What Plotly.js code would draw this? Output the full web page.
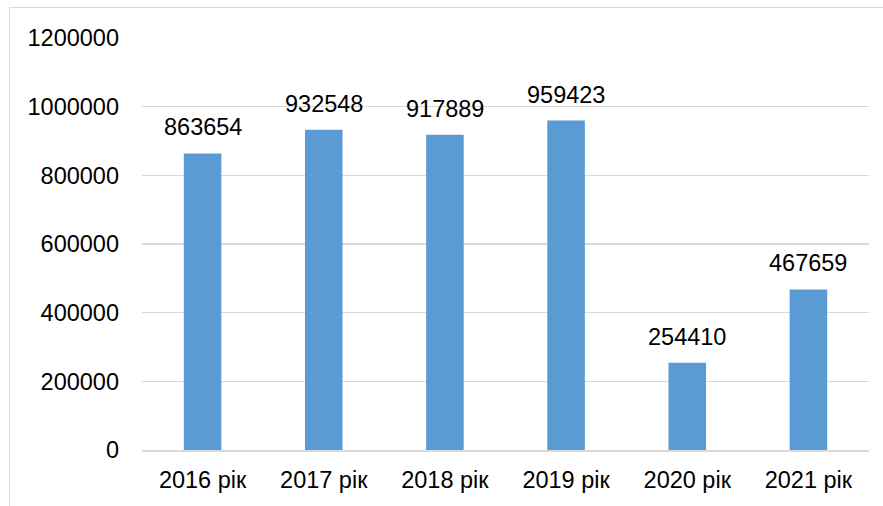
<!DOCTYPE html>
<html>
<head>
<meta charset="utf-8">
<script src="https://cdn.plot.ly/plotly-3.0.1.min.js"></script>
<style>
html,body{margin:0;padding:0;background:#fff;overflow:hidden;}
#wrap{position:relative;width:883px;height:506px;}
#chart{position:absolute;left:0;top:0;width:883px;height:506px;}
#frame{position:absolute;left:9px;top:7px;width:900px;height:520px;border:1px solid #d9d9d9;pointer-events:none;box-sizing:border-box;}
</style>
</head>
<body>
<div id="wrap">
<div id="chart"></div>
<div id="frame"></div>
</div>
<script>
var categories = ["2016 рік", "2017 рік", "2018 рік", "2019 рік", "2020 рік", "2021 рік"];
var values = [863654, 932548, 917889, 959423, 254410, 467659];
var yTicks = [0, 200000, 400000, 600000, 800000, 1000000, 1200000];

var font = "Liberation Sans, Arial, sans-serif";
var fsize = 23.5;

var trace = {
  type: "bar",
  x: categories,
  y: values,
  marker: {color: "#5B9BD5"},
  hoverinfo: "x+y"
};

var annotations = categories.map(function(c, i){
  return {
    x: c, y: values[i], xref: "x", yref: "y",
    text: String(values[i]),
    showarrow: false,
    yanchor: "bottom",
    yshift: 11,
    font: {family: font, size: fsize, color: "#000"}
  };
});

var layout = {
  width: 883, height: 506,
  margin: {l: 142, r: 14, t: 37.5, b: 55.5, pad: 0},
  paper_bgcolor: "rgba(0,0,0,0)",
  plot_bgcolor: "#fff",
  bargap: 0.69,
  showlegend: false,
  font: {family: font, size: fsize, color: "#000"},
  xaxis: {
    type: "category",
    showgrid: false,
    showline: true,
    linecolor: "#d9d9d9",
    linewidth: 1.5,
    ticks: "",
    ticklabelstandoff: 8,
    tickfont: {family: font, size: fsize, color: "#000"}
  },
  yaxis: {
    range: [0, 1200000],
    tickvals: yTicks,
    ticktext: yTicks.map(String),
    showgrid: true,
    gridcolor: "#d9d9d9",
    gridwidth: 1.5,
    zeroline: false,
    showline: false,
    ticks: "",
    ticklabelstandoff: 22,
    tickfont: {family: font, size: fsize, color: "#000"}
  },
  annotations: annotations
};

Plotly.newPlot("chart", [trace], layout, {staticPlot: true, displayModeBar: false});
</script>
</body>
</html>
